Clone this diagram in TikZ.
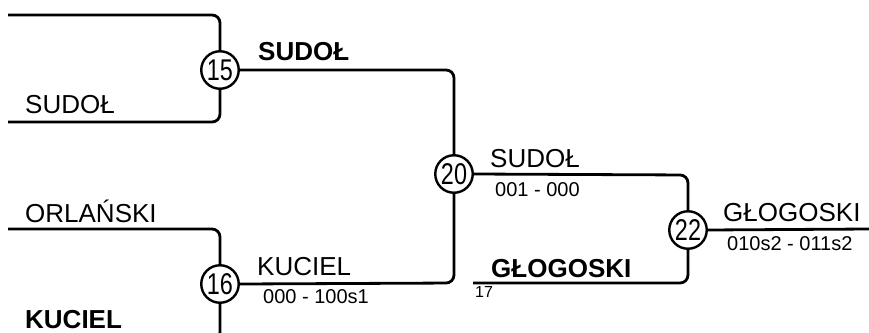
\documentclass[tikz,border=0pt]{standalone}
\usepackage{fontspec}
\setmainfont{Liberation Sans}
\begin{document}
\begin{tikzpicture}[x=1pt,y=-1pt,
  wire/.style={line width=2.8pt,rounded corners=8pt},
  seed/.style={circle,draw,line width=2.4pt,minimum size=37.5pt,inner sep=0pt,
    font=\fontsize{30}{32}\selectfont},
  big/.style={anchor=base west,inner sep=0pt,font=\fontsize{26}{30}\selectfont},
  bigb/.style={anchor=base west,inner sep=0pt,font=\fontsize{26}{30}\selectfont\bfseries},
  small/.style={anchor=base west,inner sep=0pt,font=\fontsize{20}{24}\selectfont},
  tiny/.style={anchor=base west,inner sep=0pt,font=\fontsize{16}{18}\selectfont}]
\useasboundingbox (0,0) rectangle (869,332);
\clip (0,0) rectangle (869,332);
% circles
\node[seed] (c15) at (220,70) {\scalebox{0.78}[1]{15}};
\node[seed] (c16) at (220,284) {\scalebox{0.78}[1]{16}};
\node[seed] (c20) at (454,174) {\scalebox{0.78}[1]{20}};
\node[seed] (c22) at (688,230) {\scalebox{0.78}[1]{22}};
% coordinates
\coordinate (a1) at (8,15);
\coordinate (a2) at (8,122);
\coordinate (b1) at (8,229);
\coordinate (b2) at (8,340);
\coordinate (r) at (869,229);
\coordinate (g) at (473,283);
% connectors
\draw[wire] (a1) -- (220,15) -- (c15.north);
\draw[wire] (a2) -- (220,122) -- (c15.south);
\draw[wire] (b1) -- (220,229) -- (c16.north);
\draw[wire] (b2) -- (220,340) -- (c16.south);
\draw[wire] (c15.east) -- (454,70) -- (c20.north);
\draw[wire] (c16.east) -- (454,283) -- (c20.south);
\draw[wire] (c20.east) -- (688,175) -- (c22.north);
\draw[wire] (c22.south) -- (688,283) -- (g);
\draw[wire] (c22.east) -- (r);
% labels
\node[big] (t1) at (25,113) {SUDOŁ};
\node[bigb] (t2) at (258,60) {SUDOŁ};
\node[big] (t3) at (25,222) {ORLAŃSKI};
\node[bigb] (t4) at (25,328) {KUCIEL};
\node[big] (t5) at (257,275) {KUCIEL};
\node[small] (t6) at (263,303) {000 - 100s1};
\node[big] (t7) at (490,167) {SUDOŁ};
\node[small] (t8) at (495,196) {001 - 000};
\node[bigb] (t9) at (491,277) {GŁOGOSKI};
\node[tiny] (t10) at (475,297) {17};
\node[big] (t11) at (723,221) {GŁOGOSKI};
\node[small] (t12) at (727,250) {010s2 - 011s2};
\end{tikzpicture}
\end{document}
